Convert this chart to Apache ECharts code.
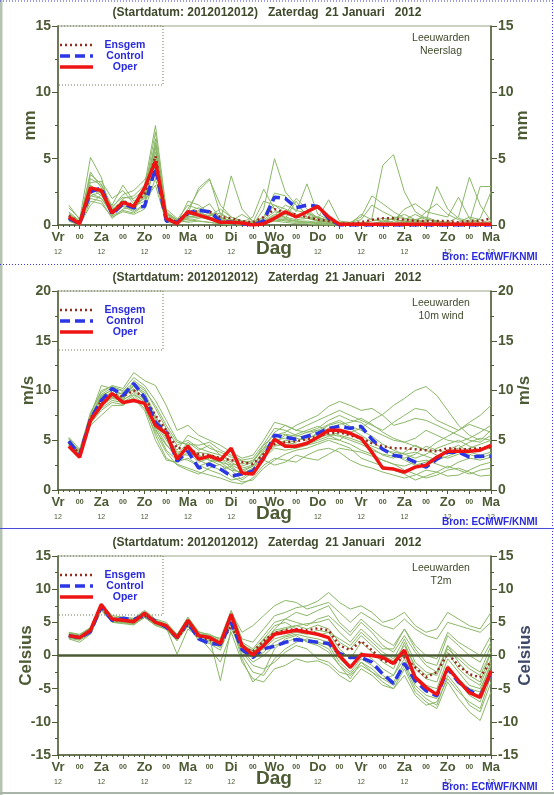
<!DOCTYPE html>
<html>
<head>
<meta charset="utf-8">
<script src="https://cdn.jsdelivr.net/npm/echarts@6/dist/echarts.min.js"></script>
<style>
html, body { margin: 0; padding: 0; background: #fff; }
#chart { width: 554px; height: 795px; }
</style>
</head>
<body>
<div id="chart"></div>
<script>
// forecast steps, hours after 2012-01-20 12 UTC
var hours = [6,12,18,24,30,36,42,48,54,60,66,72,78,84,90,96,102,108,114,120,
             126,132,138,144,150,156,162,168,174,180,186,192,198,204,210,216,222,228,234,240];
var dayNames = ['Vr','Za','Zo','Ma','Di','Wo','Do','Vr','Za','Zo','Ma'];
var titleText = '(Startdatum: 2012012012)   Zaterdag  21 Januari   2012';
var legendNames = ['Ensgem', 'Control', 'Oper'];

// ---- Neerslag (mm)
var neerslagOper = [0.6,0.1,2.8,2.6,0.9,1.7,1.4,2.8,4.8,0.5,0.1, 1.0,0.75,0.5,0.2,0.2,0.15,0,0.1,0.5,1.0,0.6,1.0,1.4,0.6,0.05,
                    0.05,0.05,0.05,0.05,0.05,0.05,0.05,0.05,0.05,0.05,0.05,0.05,0.05,0.05];
var neerslagControl = [0.5,0.1,2.5,2.8,0.8,1.6,1.3,1.4,4.3,0.3,0.2, 0.9,1.1,1.0,0.3,0.2,0.1,0,0.3,2.1,2.0,1.3,1.5,1.4,0.5,0,
                       0,0,0,0,0,0,0,0,0,0,0,0,0,0];
var neerslagEnsgem = [0.7,0.2,2.8,2.5,1.0,1.8,1.5,2.3,5.2,0.6,0.2, 0.8,1.1,1.0,0.6,0.5,0.3,0.2,0.6,1.2,0.9,0.8,0.6,0.4,0.3,0.1,
                      0.1,0.2,0.4,0.5,0.5,0.4,0.3,0.3,0.3,0.3,0.2,0.3,0.3,0.5];
var p01 = [0.5,0.1,2.2,2.5,1.0,1.6,1.5,2.0,4.5,0.6,0.2, 0.8,1.0,0.6,0.3,0.2,0.1,0.1,0.3,0.8,0.6,0.4,0.5,0.6,0.3,0.1, 0.1,0.2,0.1,0,0,0,0.1,0.2,0.1,0,0,0,0.1,0.1];
var p02 = [0.8,0.3,3.5,3.0,1.2,1.8,1.2,2.5,6.0,0.9,0.4, 1.5,1.2,0.8,0.5,0.3,0.2,0.1,0.5,1.5,1.2,0.8,0.6,0.4,0.2,0.1, 0.1,0,0.1,0.3,0.5,0.2,0.1,0,0,0,0,0,0,0];
var p03 = [1.5,0.4,5.1,3.6,0.7,2.0,2.2,3.0,7.5,1.2,0.5, 0.4,0.3,0.2,0.1,0,0,0,0.2,0.5,0.3,0.2,0.2,0.1,0,0, 0,0,0.5,4.5,5.3,2.5,1.0,0.5,0.2,0.1,0,0,0,0];
var p04 = [0.3,0.0,1.8,1.6,0.6,1.0,0.8,1.2,3.5,0.3,0.1, 1.2,2.6,3.4,1.5,0.6,0.3,0.2,0.4,1.0,0.8,0.6,0.5,0.3,0.2,0.1, 0.1,0,0,0,0.1,0.3,0.2,0.1,0.3,0.2,0.1,0,0.1,0];
var p05 = [0.7,0.2,2.8,2.2,1.5,3.0,1.8,2.2,5.5,0.4,0.1, 0.6,0.8,0.5,0.3,3.7,1.2,0.3,0.2,0.5,0.4,0.3,0.2,0.2,0.1,0.1, 0,0,0.1,0.2,0.5,0.8,0.4,0.2,0.1,0,0.2,0.6,0.4,0.1];
var p06 = [0.4,0.1,2.4,2.0,0.8,1.4,1.0,1.6,6.5,0.7,0.2, 1.0,1.3,0.9,0.4,0.2,0.1,0,1.2,5.0,2.5,1.5,0.8,0.5,0.4,0.1, 0,0.1,0,0,0,0,0.1,0,0,0,0,0,0,0];
var p07 = [1.0,0.3,4.0,2.8,1.3,2.3,2.6,3.4,5.0,0.5,0.2, 0.3,0.5,0.7,1.2,0.6,0.3,0.2,0.6,2.4,2.2,1.0,3.1,0.8,0.4,0.2, 0.1,0.8,0.4,0.3,0.2,0.4,0.8,0.4,0.3,0.2,0.1,0,0,0];
var p08 = [0.6,0.1,3.0,2.4,1.1,1.9,1.3,2.6,7.0,0.8,0.3, 0.9,2.8,3.5,0.8,0.4,0.2,0.1,0.3,0.6,0.5,1.8,0.6,0.3,0.2,0.1, 0.2,0.4,1.5,1.0,0.6,0.5,0.4,0.6,0.3,0.1,0,0,0,0.3];
var p09 = [0.4,0.2,2.0,1.8,0.5,1.2,1.4,1.8,3.0,0.2,0.1, 0.5,0.6,0.4,0.2,0.1,0.1,0.1,0.2,0.4,0.8,2.0,1.2,0.5,0.2,0.1, 0.1,0.2,0.1,0,0.1,0.2,0.4,0.3,2.9,1.2,0.5,0.3,0.2,0.1];
var p10 = [1.3,0.5,3.2,3.3,2.0,2.6,1.6,2.9,4.0,1.0,0.4, 0.2,0.3,0.2,0.1,0.1,0,0,0.1,0.3,0.2,0.1,0.1,0,0,0, 0,0,0,0.1,0.3,1.2,1.6,1.0,0.8,0.6,2.1,0.5,0.2,0.1];
var p11 = [0.5,0.1,2.6,2.7,0.9,1.5,1.1,2.3,5.8,0.6,0.1, 0.7,1.1,1.6,0.5,0.3,0.8,0.3,0.1,0.3,0.4,0.3,0.3,0.2,0.1,0, 0,0,0.1,0,0,0.2,0.3,0.2,0.1,0.2,0.6,3.6,1.5,0.3];
var p12 = [0.3,0.0,1.5,2.3,0.7,1.1,0.9,1.5,4.8,0.4,0.1, 1.8,1.5,0.9,0.6,0.3,0.2,0.6,2.7,1.2,0.5,0.3,0.2,0.1,0.1,0, 0,0,0,0,0.1,0.1,0,0.1,0.2,0.1,0.1,0.2,2.9,2.9];
var p13 = [0.9,0.2,3.8,3.1,1.4,2.1,2.0,2.7,6.2,0.9,0.3, 1.1,0.9,0.7,0.9,0.4,0.3,0.2,1.8,1.5,0.9,0.6,1.0,0.5,1.9,0.3, 0.2,0.6,2.2,1.6,1.0,0.5,0.3,0.2,0.1,0.1,0.1,0.1,0.5,2.5];
var p14 = [0.6,0.2,2.2,2.0,1.0,1.7,1.3,2.1,4.2,0.5,0.2, 0.6,0.7,0.6,0.4,0.2,0.1,0.1,0.2,0.7,1.5,1.1,0.9,0.6,0.3,0.2, 0.1,0.1,0.3,0.5,0.4,0.3,0.2,1.0,1.6,0.8,0.4,0.2,0.1,0];

// ---- 10m wind (m/s)
var windOper = [4.4,3.3,7.0,8.5,9.7,8.8,9.0,8.7,6.5,5.7,3.1, 4.4,3.1,3.4,3.0,4.2,1.7,1.6,3.2,5.1,4.4,4.4,4.7,5.3,6.0,6.0,
                5.7,5.2,3.8,2.2,2.1,1.8,2.3,2.5,3.3,3.9,3.9,3.9,4.0,4.5];
var windControl = [4.9,3.5,7.1,9.0,10.2,9.5,10.7,9.3,6.8,5.8,2.9, 3.9,2.2,2.6,2.1,1.4,1.6,1.9,3.2,5.5,5.3,5.1,5.4,5.7,6.2,6.4,
                   6.2,6.4,5.1,4.1,3.5,3.3,2.8,2.3,3.1,3.8,3.8,3.3,3.4,3.4];
var windEnsgem = [4.8,3.6,7.2,9.0,9.6,9.4,10.0,9.3,7.5,6.0,4.2, 4.2,3.6,3.5,3.2,3.0,2.8,2.6,3.6,4.6,4.8,4.9,5.1,5.4,5.7,5.8,
                  5.5,5.2,4.7,4.4,4.2,4.2,4.1,4.0,3.9,4.2,4.1,4.1,4.2,4.3];
var w01 = [4.6,3.5,7.2,9.5,10.0,9.6,10.5,9.8,7.5,5.5,3.8, 4.0,3.0,2.5,2.0,2.4,1.5,2.2,3.5,4.8,5.5,5.2,5.0,5.8,6.5,6.8, 6.2,5.5,4.8,4.2,3.6,3.0,2.5,2.8,3.4,4.0,4.5,3.8,3.5,3.8];
var w02 = [5.2,3.8,7.5,10.5,10.2,9.0,11.0,10.2,8.2,6.2,4.5, 5.0,4.2,3.8,3.5,3.0,2.6,3.0,4.2,5.8,6.5,6.0,5.8,6.2,7.0,7.5, 7.0,6.8,6.0,5.5,5.0,4.8,5.2,6.0,5.5,5.0,4.8,5.2,5.8,6.5];
var w03 = [4.4,3.3,6.8,8.2,9.0,8.8,9.5,8.5,5.5,3.2,2.6, 2.2,1.8,1.5,1.2,0.8,0.6,1.2,2.5,3.2,3.0,2.8,3.5,4.0,4.2,3.8, 3.0,2.5,2.2,1.8,1.5,1.2,1.5,2.0,1.8,1.4,1.5,2.0,2.5,2.8];
var w04 = [5.0,4.0,7.8,9.8,10.5,10.2,11.8,11.0,10.5,8.5,6.0, 6.5,5.5,5.0,4.5,3.8,3.2,3.5,5.0,6.8,6.5,6.0,6.5,7.0,7.5,8.0, 7.5,7.0,6.5,6.0,6.8,7.5,8.2,8.0,7.0,6.5,6.0,6.8,7.5,8.5];
var w05 = [4.8,3.6,7.0,8.8,9.4,9.8,10.0,9.0,6.0,4.5,3.5, 4.8,4.0,4.5,3.5,2.8,2.2,2.5,3.8,5.0,5.2,5.6,6.0,6.4,6.0,5.5, 5.2,4.8,4.2,3.5,3.2,3.8,4.5,4.0,3.5,3.2,3.6,4.2,4.6,5.0];
var w06 = [4.5,3.4,6.5,7.5,8.5,8.5,9.2,8.0,5.0,3.0,2.8, 3.2,2.5,2.0,1.6,1.0,1.2,2.0,3.0,2.5,2.8,3.5,3.2,3.0,3.6,4.2, 4.0,3.8,3.4,3.0,2.6,2.0,1.6,1.2,1.5,2.0,2.2,1.8,1.4,1.5];
var w07 = [4.9,3.7,7.3,9.3,9.8,9.2,10.6,9.5,7.0,5.2,4.0, 5.5,5.0,4.2,3.8,3.3,2.9,2.8,4.5,5.5,5.8,6.5,7.0,7.5,8.4,8.9, 8.5,8.0,8.2,7.5,6.5,6.8,7.2,7.0,6.5,6.0,5.5,5.0,4.8,5.5];
var w08 = [5.1,3.9,7.6,10.0,10.4,10.0,11.3,10.5,9.0,7.0,5.0, 4.5,3.5,3.0,2.5,2.0,1.8,2.4,3.8,4.5,5.0,4.8,5.5,6.0,5.5,5.0, 5.8,6.2,7.0,7.6,8.5,9.2,10.0,10.4,9.5,8.0,6.5,5.5,5.0,6.0];
var w09 = [4.7,3.4,6.9,8.5,9.2,9.0,9.8,8.8,6.2,4.0,3.0, 3.8,2.8,3.2,2.8,2.0,1.0,1.8,3.2,4.2,4.0,4.2,4.5,4.8,5.2,5.0, 4.6,4.0,3.6,3.0,2.6,2.4,2.8,3.0,2.6,2.2,2.8,3.2,3.0,3.3];
var w10 = [4.6,3.5,7.1,9.1,9.6,9.3,10.2,9.2,6.6,5.0,3.4, 4.2,3.4,3.0,2.8,2.5,2.0,2.4,4.0,5.3,5.6,5.4,5.8,6.0,6.6,7.0, 6.4,6.0,5.4,4.6,4.0,3.6,3.2,3.6,4.2,4.6,5.0,4.4,4.0,4.2];
var w11 = [5.3,4.1,7.4,9.6,10.3,9.9,10.8,10.0,8.5,6.5,4.8, 4.6,4.5,4.8,4.0,3.5,3.0,3.2,4.6,6.2,6.0,5.5,5.2,5.6,6.2,6.6, 6.8,7.2,6.6,5.8,5.2,4.8,4.4,4.0,4.8,5.4,6.0,6.6,6.2,5.8];
var w12 = [4.5,3.3,6.7,8.0,8.8,8.6,9.3,8.2,5.8,3.8,2.5, 2.0,1.6,2.2,2.6,1.4,0.8,1.0,2.2,3.0,3.6,4.0,4.2,4.6,5.0,4.6, 4.2,3.2,2.8,2.4,2.0,1.6,1.0,1.4,1.8,2.4,2.0,1.6,2.0,2.2];
var w13 = [4.9,3.6,7.2,9.4,10.1,9.6,10.4,9.6,7.2,5.6,3.6, 3.5,3.8,3.6,3.2,2.6,2.4,2.8,4.2,5.0,4.8,4.6,4.6,5.0,5.4,5.8, 5.6,5.0,4.4,4.0,3.8,3.6,3.8,3.4,3.0,3.4,3.8,3.6,3.2,3.6];
var w14 = [4.7,3.5,7.0,8.7,9.3,9.1,9.6,8.9,6.4,4.6,3.2, 3.0,2.4,2.8,3.2,2.2,1.6,2.2,3.4,4.4,4.6,4.4,4.8,5.2,5.6,5.4, 5.0,4.6,4.0,3.6,3.4,3.2,3.6,4.4,4.0,3.8,4.2,4.8,5.2,5.0];

// ---- T2m (Celsius)
var tempOper = [3.0,2.7,3.8,7.7,5.5,5.3,5.1,6.4,5.0,4.5,2.7, 5.3,3.0,2.7,1.8,6.2,1.5,0.1,1.5,3.2,3.5,3.8,3.5,3.2,2.7,0.0,
                -1.8,0.1,0.0,-0.3,-1.2,0.8,-3.3,-4.8,-5.9,-1.8,-3.8,-5.6,-6.3,-2.3];
var tempControl = [3.0,2.7,3.6,7.4,5.3,5.6,5.4,6.1,5.2,4.3,2.7, 5.0,2.5,1.8,1.7,5.0,0.9,-0.3,1.0,1.4,2.0,2.4,2.2,2.0,1.8,0.3,
                   -0.3,-0.3,-1.0,-2.8,-4.2,-1.2,-3.8,-5.3,-6.1,-2.0,-4.0,-5.3,-6.1,-2.6];
var tempEnsgem = [3.0,2.7,3.6,7.2,5.3,5.3,5.2,6.0,5.0,4.3,2.6, 4.6,2.7,2.4,1.6,4.5,1.2,0.6,2.2,3.4,3.8,4.0,3.8,4.1,3.8,1.5,
                  0.8,2.2,0.8,-0.8,-1.2,-0.3,-1.8,-3.3,-2.5,0.3,-1.5,-2.8,-3.3,-0.8];
var t01 = [3.2,2.9,4.0,7.5,5.6,5.5,5.4,6.5,5.2,4.6,3.0, 5.2,3.2,2.8,2.0,5.8,1.8,0.6,2.0,3.8,4.2,4.5,4.0,4.6,4.0,2.0, 1.0,3.0,1.5,0.0,-0.8,1.5,-1.5,-3.0,-2.5,1.0,-0.5,-2.0,-3.0,0.5];
var t02 = [2.5,2.0,3.2,6.8,5.0,4.8,4.6,5.8,4.5,4.0,2.2, 4.6,2.4,2.0,1.2,5.5,0.5,-1.5,-2.0,-1.0,0.5,1.5,1.0,-0.5,-1.0,-2.5, -3.0,-1.5,-2.5,-4.0,-5.0,-2.0,-5.5,-7.0,-8.0,-4.0,-6.5,-8.5,-9.8,-5.5];
var t03 = [3.5,3.2,4.2,7.8,6.0,5.8,5.6,6.8,5.5,5.0,3.2, 5.6,3.5,3.2,2.4,6.5,3.5,4.5,6.0,7.5,8.3,8.0,7.0,7.5,8.0,6.5, 5.0,6.5,5.5,4.5,4.0,5.5,4.0,3.0,2.5,5.0,4.5,4.0,3.5,5.0];
var t04 = [2.8,2.4,3.4,7.0,5.2,5.0,4.9,6.0,4.8,4.2,0.2, 4.0,2.8,1.0,-1.0,3.5,-1.0,-3.5,-4.0,-2.0,-1.5,-0.5,-1.0,-0.8,-1.5,-3.0, -4.0,-2.0,-3.0,-4.5,-5.0,-3.0,-6.0,-7.5,-7.0,-3.5,-5.5,-7.0,-8.0,-3.0];
var t05 = [3.1,2.8,3.9,7.6,5.4,5.2,5.0,6.2,5.1,4.4,2.8, 5.4,3.1,2.6,-3.8,4.0,1.0,0.5,1.8,4.0,5.5,6.5,6.0,6.8,7.5,5.0, 3.5,5.5,4.0,2.5,1.5,4.0,1.0,-1.0,-1.5,3.0,1.5,0.0,-1.0,2.0];
var t06 = [2.9,2.6,3.7,7.3,5.5,5.4,5.3,6.3,5.0,4.5,2.6, 5.0,3.0,2.6,1.5,6.0,1.2,-0.5,0.5,2.0,2.8,3.2,2.8,2.5,2.0,-0.5, -2.0,0.5,-0.5,-2.0,-3.0,-0.5,-3.5,-5.0,-6.0,-2.0,-4.0,-6.0,-7.0,-2.5];
var t07 = [3.3,3.0,4.1,7.9,5.8,5.6,5.5,6.6,5.3,4.8,3.1, 5.8,3.6,3.0,2.6,6.8,2.5,2.0,4.0,6.0,6.5,7.2,7.5,8.2,9.5,8.0, 7.0,7.5,6.5,5.0,5.5,6.5,4.5,3.5,4.0,6.5,5.5,4.5,4.0,6.5];
var t08 = [2.7,2.5,3.5,7.1,5.1,5.0,4.8,5.9,4.7,4.1,2.4, 4.8,2.6,2.2,1.4,5.2,0.0,-2.5,-3.0,-0.5,1.0,2.0,2.5,2.0,1.5,-1.0, -2.5,-0.5,-1.5,-3.0,-4.0,-1.0,-4.5,-6.0,-6.5,-1.5,-3.5,-5.0,-5.5,-1.0];
var t09 = [3.0,2.8,3.8,7.4,5.3,5.3,5.2,6.2,5.0,4.4,2.7, 5.2,3.0,2.7,1.9,6.0,2.0,1.0,3.0,5.0,5.5,5.0,4.5,5.5,6.0,4.5, 3.0,5.0,3.5,1.5,0.5,3.0,0.5,-1.5,-2.5,1.5,0.0,-1.5,-2.5,1.5];
var t10 = [3.4,3.1,4.2,7.7,5.7,5.5,5.4,6.5,5.3,4.7,3.0, 5.5,3.3,3.0,2.2,6.4,1.6,0.2,1.0,2.5,3.0,3.5,3.2,3.8,3.5,1.0, -0.5,2.0,0.5,-1.0,-2.0,2.0,-2.0,-3.5,-4.0,0.5,-2.0,-3.5,-4.5,-0.5];
var t11 = [2.6,2.3,3.3,6.9,5.0,4.9,4.7,5.7,4.6,3.9,2.3, 4.4,2.3,1.8,0.8,4.8,-0.5,-4.0,-2.5,1.0,2.5,3.0,2.0,1.5,0.5,-1.5, -3.5,-1.0,-2.0,-3.5,-4.5,-1.5,-5.0,-6.5,-7.5,-3.0,-5.0,-7.5,-8.5,-4.0];
var t12 = [3.2,2.9,3.9,7.5,5.5,5.4,5.2,6.4,5.1,4.6,2.9, 5.3,3.2,2.8,2.0,6.1,1.4,-0.2,2.5,4.5,5.0,4.0,3.6,3.0,3.5,2.5, 1.5,3.5,2.0,0.5,-0.5,2.5,-1.0,-2.5,-3.0,1.5,-1.0,-3.0,-4.0,0.5];
var t13 = [2.9,2.6,3.6,7.2,5.2,5.1,5.0,6.0,4.9,4.3,2.5, 4.9,2.8,2.4,1.6,5.6,0.8,-1.0,0.0,1.5,2.0,2.6,2.2,1.8,1.0,-1.5, -2.8,-1.0,-2.5,-3.5,-3.0,0.5,-3.0,-4.5,-5.0,-0.5,-2.5,-4.5,-5.0,-1.5];
var t14 = [3.1,2.7,3.8,7.6,5.4,5.3,5.1,6.3,5.0,4.5,2.8, 5.1,3.1,2.7,1.8,6.1,1.5,0.8,2.5,3.5,4.0,4.5,4.8,5.0,5.5,3.5, 2.0,4.0,2.5,1.0,1.0,4.0,1.5,0.0,-0.5,3.5,2.0,1.0,0.0,3.0];

var axisCol = '#4d5b35';
var textCol = '#3f4a2c';
var ensCol = '#8cb868';
var font = 'Liberation Sans, Arial, sans-serif';

var lineLook = {
  Ensgem:  { stroke: '#9a2a1c', lineWidth: 2.5, lineDash: [2, 3] },
  Control: { stroke: '#2b36e6', lineWidth: 3.5, lineDash: [10, 5] },
  Oper:    { stroke: '#ee1414', lineWidth: 3.5 }
};

var panels = [
  { y: 0,   min: 0,   max: 15, name: 'mm',      place: 'Neerslag', nameCol: axisCol, gapL: 19, gapR: 23,
    oper: neerslagOper, ctrl: neerslagControl, mean: neerslagEnsgem,
    leden: [p01,p02,p03,p04,p05,p06,p07,p08,p09,p10,p11,p12,p13,p14] },
  { y: 265, min: 0,   max: 20, name: 'm/s',     place: '10m wind', nameCol: axisCol, gapL: 21, gapR: 25,
    oper: windOper, ctrl: windControl, mean: windEnsgem,
    leden: [w01,w02,w03,w04,w05,w06,w07,w08,w09,w10,w11,w12,w13,w14] },
  { y: 530, min: -15, max: 15, name: 'Celsius', place: 'T2m', nameCol: '#3e4868', gapL: 23, gapR: 26,
    oper: tempOper, ctrl: tempControl, mean: tempEnsgem,
    leden: [t01,t02,t03,t04,t05,t06,t07,t08,t09,t10,t11,t12,t13,t14], zero: true }
];

function pairs(arr) {
  return hours.map(function (h, k) { return [h, arr[k]]; });
}

var chart = echarts.init(document.getElementById('chart'), null, { renderer: 'canvas' });

var grids = [], xAxes = [], yAxes = [], series = [], graphics = [];

panels.forEach(function (p, i) {
  grids.push({ left: 58, top: p.y + 26, width: 433, height: 199, outerBoundsMode: 'none',
               show: true, borderColor: '#9aa48a', borderWidth: 1, backgroundColor: 'transparent' });

  xAxes.push({
    gridIndex: i, type: 'value', min: 0, max: 240, interval: 12,
    axisLine: { onZero: false, lineStyle: { color: axisCol, width: 1.5 } },
    axisTick: { length: 4, lineStyle: { color: axisCol } },
    minorTick: { show: true, splitNumber: 4, length: 2, lineStyle: { color: axisCol } },
    splitLine: { show: false },
    axisLabel: {
      margin: 4, showMinLabel: true, showMaxLabel: true, hideOverlap: false,
      formatter: function (v) {
        if (v % 24 === 0) return '{d|' + dayNames[v / 24] + '}\n{h|12}';
        return '{z|00}';
      },
      rich: {
        d: { fontFamily: font, fontWeight: 'bold', fontSize: 13, color: axisCol, lineHeight: 16 },
        h: { fontFamily: font, fontSize: 7, color: axisCol, lineHeight: 14 },
        z: { fontFamily: font, fontWeight: 'bold', fontSize: 7, color: axisCol, lineHeight: 16 }
      }
    }
  });

  [ 'left', 'right' ].forEach(function (pos) {
    yAxes.push({
      gridIndex: i, type: 'value', position: pos, min: p.min, max: p.max, interval: 5,
      name: p.name, nameLocation: 'middle', nameRotate: 90, nameMoveOverlap: false,
      nameGap: pos === 'left' ? p.gapL : p.gapR,
      nameTextStyle: { fontFamily: font, fontWeight: 'bold', fontSize: 17,
                       color: pos === 'right' ? p.nameCol : axisCol },
      axisLine: { show: true, onZero: false, lineStyle: { color: axisCol, width: 1.5 } },
      axisTick: { show: true, length: 6, lineStyle: { color: axisCol } },
      minorTick: { show: true, splitNumber: 2, length: 3, lineStyle: { color: axisCol } },
      splitLine: { show: false },
      axisLabel: { margin: 7, fontFamily: font, fontWeight: 'bold', fontSize: 14, color: axisCol }
    });
  });

  p.leden.forEach(function (arr, k) {
    var s = {
      type: 'line', xAxisIndex: i, yAxisIndex: 2 * i, data: pairs(arr),
      symbol: 'none', silent: true, animation: false, z: 1,
      lineStyle: { color: ensCol, width: 1 }
    };
    if (k === 0 && p.zero) {
      s.markLine = {
        silent: true, symbol: 'none', label: { show: false },
        lineStyle: { color: axisCol, width: 2.5, type: 'solid' },
        data: [{ yAxis: 0 }]
      };
    }
    series.push(s);
  });

  [ ['Ensgem', p.mean, 3], ['Control', p.ctrl, 4], ['Oper', p.oper, 5] ].forEach(function (d) {
    var look = lineLook[d[0]];
    series.push({
      name: d[0], type: 'line', xAxisIndex: i, yAxisIndex: 2 * i, data: pairs(d[1]),
      symbol: 'none', animation: false, z: d[2],
      lineStyle: { color: look.stroke, width: look.lineWidth, type: look.lineDash || 'solid' }
    });
  });

  // legend box with line samples
  graphics.push(
    { type: 'rect', shape: { x: 58, y: p.y + 26, width: 105, height: 59 }, z: 10,
      style: { fill: 'none', stroke: '#6e7a58', lineWidth: 1, lineDash: [1, 2] } }
  );
  legendNames.forEach(function (nm, r) {
    var yy = p.y + 45 + r * 11;
    graphics.push(
      { type: 'line', shape: { x1: 60, y1: yy, x2: 93, y2: yy }, z: 10, style: lineLook[nm] },
      { type: 'text', x: 125, y: yy, z: 10,
        style: { text: nm, fontFamily: font, fontWeight: 'bold', fontSize: 10.5, fill: '#2a2ae0',
                 align: 'center', verticalAlign: 'middle' } }
    );
  });

  graphics.push(
    { type: 'text', x: 267, y: p.y + 13, z: 10,
      style: { text: titleText, fontFamily: font, fontWeight: 'bold', fontSize: 12,
               fill: textCol, align: 'center', verticalAlign: 'middle' } },
    { type: 'text', x: 441, y: p.y + 38, z: 10,
      style: { text: 'Leeuwarden', fontFamily: font, fontSize: 10.5, fill: textCol,
               align: 'center', verticalAlign: 'middle' } },
    { type: 'text', x: 441, y: p.y + 51, z: 10,
      style: { text: p.place, fontFamily: font, fontSize: 10.5, fill: textCol,
               align: 'center', verticalAlign: 'middle' } },
    { type: 'text', x: 274, y: p.y + 249, z: 10,
      style: { text: 'Dag', fontFamily: font, fontWeight: 'bold', fontSize: 19, fill: axisCol,
               align: 'center', verticalAlign: 'middle' } },
    { type: 'text', x: 442, y: p.y + 257, z: 10,
      style: { text: 'Bron: ECMWF/KNMI', fontFamily: font, fontWeight: 'bold', fontSize: 10,
               fill: '#2a2ae0', align: 'left', verticalAlign: 'middle' } }
  );
});

// frame and panel separators
graphics.push(
  { type: 'rect', shape: { x: 0, y: 0, width: 2.5, height: 795 }, style: { fill: '#b4c3b4' } },
  { type: 'line', shape: { x1: 0, y1: 1, x2: 554, y2: 1 },
    style: { stroke: '#3a3ae0', lineWidth: 1, lineDash: [1, 2] } },
  { type: 'line', shape: { x1: 552.5, y1: 0, x2: 552.5, y2: 795 },
    style: { stroke: '#3a3ae0', lineWidth: 1, lineDash: [1, 2] } },
  { type: 'line', shape: { x1: 0, y1: 264.5, x2: 554, y2: 264.5 },
    style: { stroke: '#3a3ae0', lineWidth: 1, lineDash: [1, 2] } },
  { type: 'line', shape: { x1: 0, y1: 528.5, x2: 554, y2: 528.5 },
    style: { stroke: '#4a4ad8', lineWidth: 1.2 } },
  { type: 'line', shape: { x1: 0, y1: 793, x2: 554, y2: 793 },
    style: { stroke: '#a9b5a9', lineWidth: 2 } }
);

chart.setOption({
  backgroundColor: '#ffffff',
  animation: false,
  grid: grids,
  xAxis: xAxes,
  yAxis: yAxes,
  series: series,
  graphic: graphics
});
</script>
</body>
</html>
